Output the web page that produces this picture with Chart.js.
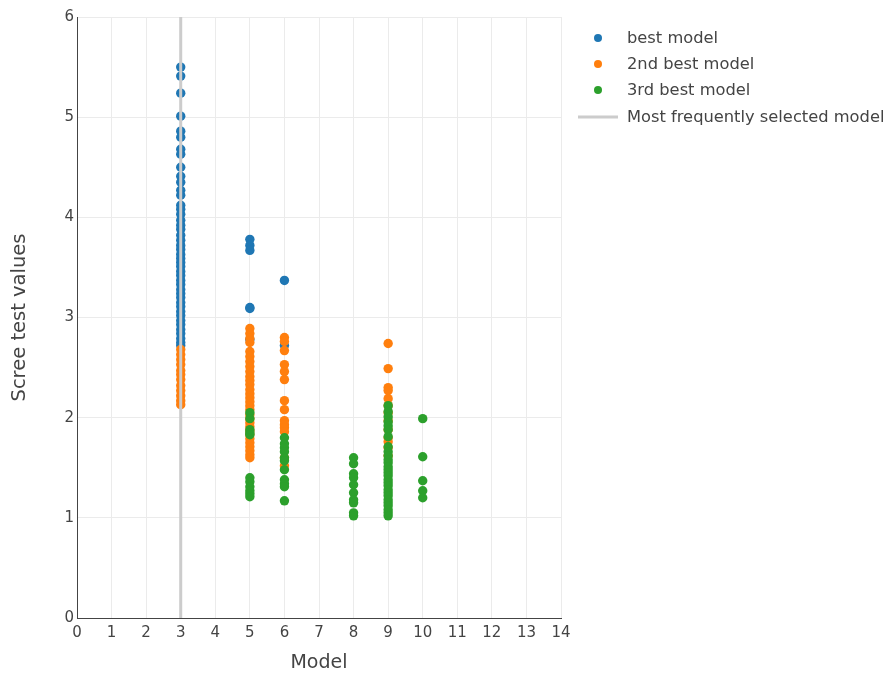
<!DOCTYPE html>
<html>
<head>
<meta charset="utf-8">
<script src="https://cdn.jsdelivr.net/npm/chart.js@4.4.1/dist/chart.umd.min.js"></script>
<style>
  html, body { margin: 0; padding: 0; background: #fff; }
  #wrap { position: relative; width: 891px; height: 673px; }
</style>
</head>
<body>
<div id="wrap"><canvas id="c" width="891" height="673"></canvas></div>
<script>
// ---- Data ----
const seriesLabels = ["best model", "2nd best model", "3rd best model", "Most frequently selected model"];
const seriesColors = ["#1f77b4", "#ff7f0e", "#2ca02c", "#cccccc"];

// best model
const best_m3 = [5.50, 5.41, 5.24, 5.01, 4.86, 4.80, 4.68, 4.63, 4.50, 4.41, 4.35, 4.27, 4.22, 4.12, 4.08, 4.03, 3.97, 3.92, 3.88, 3.82, 3.77, 3.72, 3.68, 3.63, 3.59, 3.55, 3.51, 3.46, 3.42, 3.37, 3.33, 3.28, 3.24, 3.20, 3.15, 3.11, 3.06, 3.02, 2.97, 2.93, 2.88, 2.84, 2.79, 2.75, 2.72];
const best_m5 = [3.78, 3.72, 3.67, 3.10, 3.09, 2.78];
const best_m6 = [3.37, 2.72];

// 2nd best model
const second_m3 = [2.68, 2.63, 2.58, 2.53, 2.47, 2.43, 2.38, 2.32, 2.27, 2.22, 2.17, 2.13];
const second_m5 = [2.89, 2.84, 2.79, 2.75, 2.66, 2.61, 2.56, 2.51, 2.46, 2.41, 2.37, 2.33, 2.28, 2.24, 2.20, 2.16, 2.12, 2.08, 2.03, 1.99, 1.95, 1.91, 1.87, 1.83, 1.79, 1.75, 1.71, 1.67, 1.63, 1.60];
const second_m6 = [2.80, 2.76, 2.67, 2.53, 2.46, 2.38, 2.17, 2.08, 1.97, 1.93, 1.90, 1.86, 1.60, 1.52];
const second_m9 = [2.74, 2.49, 2.30, 2.27, 2.19, 2.12, 2.05, 1.97, 1.88, 1.80, 1.76, 1.70, 1.62];

// 3rd best model
const third_m5 = [2.05, 1.99, 1.88, 1.85, 1.83, 1.40, 1.36, 1.31, 1.27, 1.24, 1.21];
const third_m6 = [1.80, 1.74, 1.70, 1.66, 1.60, 1.57, 1.48, 1.38, 1.34, 1.31, 1.17];
const third_m8 = [1.60, 1.54, 1.44, 1.40, 1.33, 1.25, 1.18, 1.15, 1.05, 1.02];
const third_m9 = [2.12, 2.06, 2.01, 1.96, 1.92, 1.88, 1.81, 1.71, 1.66, 1.62, 1.58, 1.55, 1.51, 1.48, 1.45, 1.42, 1.38, 1.35, 1.32, 1.28, 1.25, 1.22, 1.18, 1.15, 1.12, 1.08, 1.05, 1.02];
const third_m10 = [1.99, 1.61, 1.37, 1.27, 1.20];

// most frequently selected model
const selectedModel = 3;
const yRange = [0, 6];
const xRange = [0, 14];

// ---- Build point lists ----
function pts(model, values) { return values.map(v => ({ x: model, y: v })); }
const bestData = [].concat(pts(3, best_m3), pts(5, best_m5), pts(6, best_m6));
const secondData = [].concat(pts(3, second_m3), pts(5, second_m5), pts(6, second_m6), pts(9, second_m9));
const thirdData = [].concat(pts(5, third_m5), pts(6, third_m6), pts(8, third_m8), pts(9, third_m9), pts(10, third_m10));
const lineData = [{ x: selectedModel, y: yRange[0] }, { x: selectedModel, y: yRange[1] }];

const FONT = "'DejaVu Sans', Verdana, sans-serif";
const TEXT = "#444444";

const legendPlugin = {
  id: 'customLegend',
  afterDraw(chart) {
    const ctx = chart.ctx;
    ctx.save();
    ctx.font = "16.3px " + FONT;
    ctx.textBaseline = 'middle';
    ctx.textAlign = 'left';
    const ys = [38, 64, 90, 117];
    chart.data.datasets.forEach((ds, i) => {
      const y = ys[i];
      if (ds.showLine) {
        ctx.strokeStyle = ds.borderColor;
        ctx.lineWidth = 3;
        ctx.beginPath();
        ctx.moveTo(578, y);
        ctx.lineTo(618, y);
        ctx.stroke();
      } else {
        ctx.fillStyle = ds.backgroundColor;
        ctx.beginPath();
        ctx.arc(598, y, 4, 0, Math.PI * 2);
        ctx.fill();
      }
      ctx.fillStyle = TEXT;
      ctx.fillText(ds.label, 627, y + 1);
    });
    ctx.restore();
  }
};

new Chart(document.getElementById('c'), {
  type: 'scatter',
  data: {
    datasets: [
      { label: seriesLabels[0], data: bestData, backgroundColor: seriesColors[0], borderWidth: 0, pointRadius: 4.7, order: 3 },
      { label: seriesLabels[1], data: secondData, backgroundColor: seriesColors[1], borderWidth: 0, pointRadius: 4.7, order: 2 },
      { label: seriesLabels[2], data: thirdData, backgroundColor: seriesColors[2], borderWidth: 0, pointRadius: 4.7, order: 1 },
      { label: seriesLabels[3], data: lineData, showLine: true, borderColor: seriesColors[3], backgroundColor: seriesColors[3], borderWidth: 3, pointRadius: 0, order: 0 }
    ]
  },
  options: {
    responsive: false,
    animation: false,
    events: [],
    layout: { padding: { left: 0, right: 330, top: 17, bottom: 0 } },
    plugins: { legend: { display: false }, tooltip: { enabled: false } },
    scales: {
      x: {
        type: 'linear', min: xRange[0], max: xRange[1],
        ticks: { stepSize: 1, color: TEXT, font: { family: FONT, size: 15 }, padding: 6, maxRotation: 0 },
        grid: { color: '#ebebeb', drawTicks: false, lineWidth: 1 },
        border: { display: true, color: '#444444', width: 1 },
        title: { display: true, text: 'Model', color: TEXT, font: { family: FONT, size: 19, lineHeight: 1.0 }, padding: 0 },
        afterFit(scale) { scale.height = 55; }
      },
      y: {
        type: 'linear', min: yRange[0], max: yRange[1],
        ticks: { stepSize: 1, color: TEXT, font: { family: FONT, size: 15 }, padding: 3 },
        grid: { color: '#ebebeb', drawTicks: false, lineWidth: 1 },
        border: { display: true, color: '#444444', width: 1 },
        title: { display: true, text: 'Scree test values', color: TEXT, font: { family: FONT, size: 19.5 }, padding: { top: 8, bottom: 0 } },
        afterFit(scale) { scale.width = 77; }
      }
    }
  },
  plugins: [legendPlugin]
});
</script>
</body>
</html>
